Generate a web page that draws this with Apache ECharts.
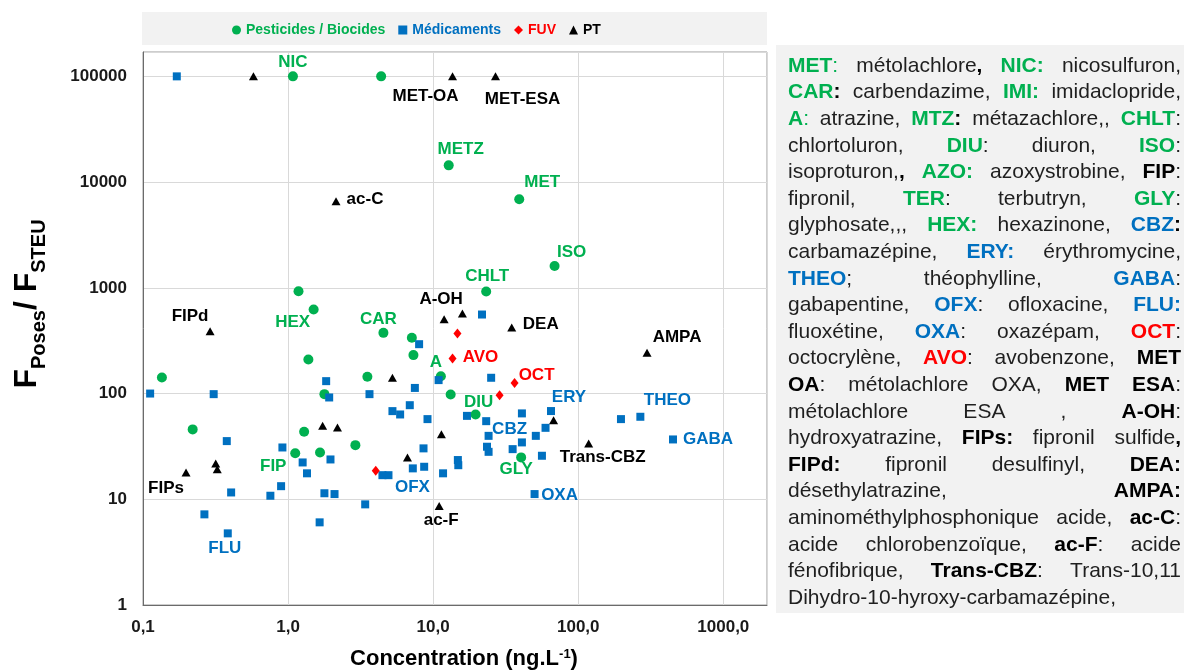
<!DOCTYPE html>
<html>
<head>
<meta charset="utf-8">
<script src="https://cdn.jsdelivr.net/npm/echarts@6/dist/echarts.min.js"></script>
<style>
  html, body { margin: 0; padding: 0; background: #fff; }
  #chart { width: 1184px; height: 672px; }
</style>
</head>
<body>
<div id="chart"></div>
<script>
// Concentration (ng/L) against the F_Poses / F_STEU ratio, one array pair per family.
const pestConc  = [1.08, 4.38, 12.8, 39.2, 68.7, 23.2, 1.18, 1.50, 4.54, 7.13, 7.31, 1.38, 3.52, 11.3, 1.78, 13.2, 19.6, 0.135, 0.220, 1.29, 2.91, 1.12, 1.66, 40.4];
const pestRatio = [100000, 100000, 14400, 6880, 1610, 923, 929, 623, 375, 337, 231, 210, 144, 146, 98.7, 98, 63.4, 142, 45.8, 43.5, 32.5, 27.2, 27.7, 24.9];
const pestNames = ['NIC', '', 'METZ', 'MET', 'ISO', 'CHLT', '', 'HEX', 'CAR', '', '', '', '', 'A', '', '', 'DIU', '', '', '', '', 'FIP', '', 'GLY'];

const medConc  = [0.171, 21.7, 10.9, 25.1, 40.9, 64.9, 17.1, 9.14, 23.2, 59.5, 51.0, 24.1, 40.9, 23.5, 24.1, 35.3, 8.58, 56.2, 197, 268, 450, 14.8, 14.9, 8.67, 11.7, 50.0, 8.0, 1.83, 1.92, 3.64, 7.48, 6.90, 5.24, 5.92, 0.914, 1.26, 1.96, 1.35, 7.24, 4.47, 4.92, 0.895, 0.112, 0.307, 0.378, 0.405, 0.265, 0.384, 0.755, 1.78, 2.09, 1.65, 3.40];
const medRatio = [100000, 559, 134, 141, 64.9, 68.3, 61.5, 57.3, 54.8, 47.4, 39.8, 39.8, 34.5, 31.4, 28.1, 29.8, 30.3, 25.8, 57.3, 60.3, 36.8, 23.5, 21.0, 20.3, 17.6, 11.2, 293, 131, 91.8, 98.7, 113, 77.6, 68.2, 63.4, 30.9, 22.3, 23.8, 17.6, 19.6, 16.9, 16.9, 13.3, 100, 98.7, 35.5, 11.6, 7.2, 4.76, 10.8, 11.4, 11.2, 6.05, 8.95];
const medNames = ['', '', '', '', '', 'ERY', '', '', '', '', '', 'CBZ', '', '', '', '', '', '', '', 'THEO', 'GABA', '', '', '', '', 'OXA', '', '', '', '', '', '', '', '', '', '', '', '', '', '', 'OFX', '', '', '', '', '', '', 'FLU', '', '', '', '', ''];

const fuvConc  = [14.7, 13.6, 36.4, 28.7, 4.02];
const fuvRatio = [370, 215, 126, 96.6, 18.6];
const fuvNames = ['', 'AVO', 'OCT', '', ''];

const ptConc  = [0.577, 13.6, 26.9, 2.14, 11.9, 15.9, 34.8, 298, 67.6, 11.4, 118, 11.0, 5.24, 1.73, 2.19, 6.65, 0.290, 0.198, 0.317, 0.325];
const ptRatio = [100000, 100000, 100000, 6580, 505, 571, 422, 243, 56, 41.1, 33.7, 8.62, 141, 49.5, 47.8, 24.9, 389, 17.9, 21.8, 19.2];
const ptNames = ['', 'MET-OA', 'MET-ESA', 'ac-C', 'A-OH', '', 'DEA', 'AMPA', '', '', 'Trans-CBZ', 'ac-F', '', '', '', '', 'FIPd', 'FIPs', '', ''];

const seriesNames = ['Pesticides / Biocides', 'Médicaments', 'FUV', 'PT'];
const xTickLabels = ['0,1', '1,0', '10,0', '100,0', '1000,0'];
const yTickLabels = ['1', '10', '100', '1000', '10000', '100000'];

// Glossary shown beside the plot; {style|text} marks coloured / bold runs.
const glossaryLines = [
  '{g|MET}{gn|:} métolachlore{k|,} {g|NIC:} nicosulfuron,',
  '{g|CAR}{k|:} carbendazime, {g|IMI:} imidaclopride,',
  '{g|A}{gn|:} atrazine, {g|MTZ}{k|:} métazachlore,, {g|CHLT}:',
  'chlortoluron, {g|DIU}: diuron, {g|ISO}:',
  'isoproturon,{k|,} {g|AZO:} azoxystrobine, {k|FIP}:',
  'fipronil, {g|TER}: terbutryn, {g|GLY}:',
  'glyphosate,,, {g|HEX:} hexazinone, {b|CBZ}{k|:}',
  'carbamazépine, {b|ERY:} érythromycine,',
  '{b|THEO}; théophylline, {b|GABA}:',
  'gabapentine, {b|OFX}: ofloxacine, {b|FLU:}',
  'fluoxétine, {b|OXA}: oxazépam, {r|OCT}:',
  'octocrylène, {r|AVO}: avobenzone, {k|MET}',
  '{k|OA}: métolachlore OXA, {k|MET} {k|ESA}:',
  'métolachlore ESA , {k|A-OH}:',
  'hydroxyatrazine, {k|FIPs:} fipronil sulfide{k|,}',
  '{k|FIPd:} fipronil desulfinyl, {k|DEA:}',
  'désethylatrazine, {k|AMPA:}',
  'aminométhylphosphonique acide, {k|ac-C}:',
  'acide chlorobenzoïque, {k|ac-F}: acide',
  'fénofibrique, {k|Trans-CBZ}: Trans-10,11',
  'Dihydro-10-hyroxy-carbamazépine,'
];

// ---- styling ----
const FONT = '"Liberation Sans", Arial, sans-serif';
const GREEN = '#00b050', BLUE = '#0070c0', RED = '#ff0000', BLACK = '#000000';

// where each point label sits relative to its marker (px)
const labelOffset = {
  'NIC': [0, -14], 'METZ': [12, -16], 'MET': [23, -17], 'ISO': [17, -14], 'CHLT': [1, -15],
  'HEX': [-21, 13], 'CAR': [-5, -14], 'A': [-5, -14], 'DIU': [3, -12], 'FIP': [-22, 13], 'GLY': [-5, 12],
  'ERY': [18, -14], 'CBZ': [21, -7], 'THEO': [27, -16], 'GABA': [35, 0], 'OXA': [25, 1], 'OFX': [24, 12], 'FLU': [-3, 15],
  'AVO': [28, -1], 'OCT': [22, -8],
  'MET-OA': [-27, 20], 'MET-ESA': [27, 23], 'ac-C': [29, -2], 'A-OH': [-3, -20], 'DEA': [29, -3],
  'AMPA': [30, -15], 'Trans-CBZ': [14, 14], 'ac-F': [2, 14], 'FIPd': [-20, -15], 'FIPs': [-20, 16]
};

function points(xs, ys, names) {
  return xs.map((x, i) => {
    const item = { value: [x, ys[i]], name: names[i] || '' };
    if (names[i]) item.label = { show: true, offset: labelOffset[names[i]] || [0, -14] };
    return item;
  });
}

function decadeFormatter(labels, firstExp) {
  return function (v) {
    const e = Math.log10(v);
    const r = Math.round(e);
    if (Math.abs(e - r) > 1e-6) return '';
    const s = labels[r - firstExp];
    return s === undefined ? '' : s;
  };
}

function pointLabel(color) {
  return {
    show: false, position: 'inside', formatter: '{b}', color: color,
    fontSize: 17, fontWeight: 'bold', fontFamily: FONT
  };
}

// ---- glossary layout (justified lines) ----
const PANEL_FS = 21;
const panelRich = {
  g:  { fontSize: PANEL_FS, fontFamily: FONT, fontWeight: 'bold', fill: GREEN },
  gn: { fontSize: PANEL_FS, fontFamily: FONT, fontWeight: 'normal', fill: GREEN },
  b:  { fontSize: PANEL_FS, fontFamily: FONT, fontWeight: 'bold', fill: BLUE },
  r:  { fontSize: PANEL_FS, fontFamily: FONT, fontWeight: 'bold', fill: RED },
  k:  { fontSize: PANEL_FS, fontFamily: FONT, fontWeight: 'bold', fill: BLACK }
};
const measureCtx = document.createElement('canvas').getContext('2d');
function runWidth(text, bold) {
  measureCtx.font = (bold ? 'bold ' : 'normal ') + PANEL_FS + 'px ' + FONT;
  return measureCtx.measureText(text).width;
}
function wordWidth(markup) {
  const re = /\{(\w+)\|([^}]*)\}|([^{]+)/g;
  let m, w = 0;
  while ((m = re.exec(markup)) !== null) {
    if (m[1]) w += runWidth(m[2], panelRich[m[1]].fontWeight === 'bold');
    else w += runWidth(m[3], false);
  }
  return w;
}
function glossaryGraphics(x0, x1, y0, lineStep) {
  const out = [];
  glossaryLines.forEach((line, li) => {
    const words = line.split(' ');
    const widths = words.map(wordWidth);
    const total = widths.reduce((a, b) => a + b, 0);
    const last = li === glossaryLines.length - 1;
    const gap = (last || words.length < 2) ? runWidth(' ', false) : (x1 - x0 - total) / (words.length - 1);
    let x = x0;
    words.forEach((w, wi) => {
      out.push({
        type: 'text', x: x, y: y0 + li * lineStep, z: 5,
        style: {
          text: w, rich: panelRich, fontSize: PANEL_FS, fontFamily: FONT,
          fill: '#1f1f1f', align: 'left', verticalAlign: 'middle'
        }
      });
      x += widths[wi] + gap;
    });
  });
  return out;
}

const chart = echarts.init(document.getElementById('chart'), null, { renderer: 'canvas' });

const graphics = [
  // legend band
  { type: 'rect', z: -10, shape: { x: 142, y: 12, width: 625, height: 33 }, style: { fill: '#f2f2f2' } },
  // glossary panel
  { type: 'rect', z: -10, shape: { x: 776, y: 45, width: 408, height: 568 }, style: { fill: '#f2f2f2' } },
  // y-axis title
  {
    type: 'text', x: 27, y: 304, rotation: Math.PI / 2, z: 5,
    style: {
      text: '{F|F}{s|Poses}{F|/ F}{s|STEU}', align: 'center', verticalAlign: 'middle',
      rich: {
        F: { fontSize: 32, fontWeight: 'bold', fontFamily: FONT, fill: '#000', lineHeight: 32, verticalAlign: 'top' },
        s: { fontSize: 20, fontWeight: 'bold', fontFamily: FONT, fill: '#000', lineHeight: 20, verticalAlign: 'top', padding: [18, 0, 0, 0] }
      }
    }
  },
  // x-axis title
  {
    type: 'text', x: 464, y: 661, z: 5,
    style: {
      text: '{m|Concentration (ng.L}{p|-1}{m|)}', align: 'center', verticalAlign: 'middle',
      rich: {
        m: { fontSize: 22, fontWeight: 'bold', fontFamily: FONT, fill: '#000', lineHeight: 26, verticalAlign: 'top' },
        p: { fontSize: 13, fontWeight: 'bold', fontFamily: FONT, fill: '#000', lineHeight: 13, verticalAlign: 'top' }
      }
    }
  }
].concat(glossaryGraphics(788, 1181, 66, 26.6));

const option = {
  animation: false,
  backgroundColor: '#ffffff',
  grid: {
    left: 143, right: 417, top: 52, bottom: 67,
    show: true, borderColor: '#9a9a9a', borderWidth: 1, backgroundColor: 'transparent'
  },
  legend: {
    left: 232, top: 23, padding: 0,
    itemWidth: 9, itemHeight: 9, itemGap: 13,
    textStyle: { fontSize: 14, fontWeight: 'bold', fontFamily: FONT },
    data: [
      { name: seriesNames[0], icon: 'circle', textStyle: { color: GREEN } },
      { name: seriesNames[1], icon: 'rect', textStyle: { color: BLUE } },
      { name: seriesNames[2], icon: 'diamond', textStyle: { color: RED } },
      { name: seriesNames[3], icon: 'triangle', textStyle: { color: BLACK } }
    ]
  },
  xAxis: {
    type: 'log', logBase: 10, min: 0.1, max: 2000,
    axisLine: { show: true, lineStyle: { color: '#6b6b6b', width: 1 } },
    axisTick: { show: false },
    splitLine: { show: true, lineStyle: { color: '#d9d9d9', width: 1 } },
    axisLabel: {
      margin: 14, color: '#1a1a1a', fontSize: 17, fontWeight: 'bold', fontFamily: FONT,
      formatter: decadeFormatter(xTickLabels, -1), showMaxLabel: false
    }
  },
  yAxis: {
    type: 'log', logBase: 10, min: 1, max: 170000,
    axisLine: { show: true, lineStyle: { color: '#6b6b6b', width: 1 } },
    axisTick: { show: false },
    splitLine: { show: true, lineStyle: { color: '#d9d9d9', width: 1 } },
    axisLabel: {
      margin: 16, color: '#1a1a1a', fontSize: 17, fontWeight: 'bold', fontFamily: FONT,
      formatter: decadeFormatter(yTickLabels, 0)
    }
  },
  graphic: { elements: graphics },
  series: [
    {
      name: seriesNames[0], type: 'scatter', symbol: 'circle', symbolSize: 10,
      itemStyle: { color: GREEN, opacity: 1 }, label: pointLabel(GREEN),
      emphasis: { disabled: true },
      data: points(pestConc, pestRatio, pestNames)
    },
    {
      name: seriesNames[1], type: 'scatter', symbol: 'rect', symbolSize: 8,
      itemStyle: { color: BLUE, opacity: 1 }, label: pointLabel(BLUE),
      emphasis: { disabled: true },
      data: points(medConc, medRatio, medNames)
    },
    {
      name: seriesNames[2], type: 'scatter', symbol: 'diamond', symbolSize: [8, 10],
      itemStyle: { color: RED, opacity: 1 }, label: pointLabel(RED),
      emphasis: { disabled: true },
      data: points(fuvConc, fuvRatio, fuvNames)
    },
    {
      name: seriesNames[3], type: 'scatter', symbol: 'triangle', symbolSize: [9, 8],
      itemStyle: { color: BLACK, opacity: 1 }, label: pointLabel(BLACK),
      emphasis: { disabled: true },
      data: points(ptConc, ptRatio, ptNames)
    }
  ]
};

chart.setOption(option);
</script>
</body>
</html>
